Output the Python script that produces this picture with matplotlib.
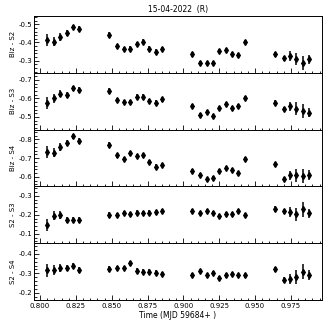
import matplotlib
matplotlib.use("Agg")
import matplotlib.pyplot as plt
from matplotlib.ticker import MultipleLocator, AutoMinorLocator, FormatStrFormatter

# --- Data ---
time = [0.8051, 0.8098, 0.8142, 0.8186, 0.8230, 0.8274,
        0.8479, 0.8539, 0.8586, 0.8630, 0.8674, 0.8718, 0.8762, 0.8807, 0.8851,
        0.9060, 0.9118, 0.9162, 0.9206, 0.9250, 0.9295, 0.9339, 0.9383, 0.9430,
        0.9641, 0.9699, 0.9743, 0.9787, 0.9832, 0.9876]

biz_s2 = [-0.415, -0.405, -0.430, -0.453, -0.485, -0.476,
          -0.442, -0.382, -0.363, -0.367, -0.392, -0.405, -0.367, -0.350, -0.363,
          -0.335, -0.288, -0.288, -0.288, -0.354, -0.360, -0.335, -0.333, -0.400,
          -0.335, -0.313, -0.326, -0.310, -0.290, -0.307]
biz_s3 = [-0.575, -0.600, -0.625, -0.620, -0.654, -0.646,
          -0.642, -0.590, -0.580, -0.580, -0.610, -0.610, -0.586, -0.577, -0.595,
          -0.560, -0.510, -0.525, -0.507, -0.550, -0.568, -0.550, -0.558, -0.604,
          -0.577, -0.542, -0.558, -0.545, -0.532, -0.523]
biz_s4 = [-0.733, -0.729, -0.759, -0.779, -0.818, -0.791,
          -0.768, -0.715, -0.694, -0.725, -0.711, -0.715, -0.679, -0.655, -0.663,
          -0.630, -0.608, -0.587, -0.593, -0.630, -0.649, -0.637, -0.619, -0.694,
          -0.667, -0.587, -0.608, -0.608, -0.605, -0.610]
s2_s3 = [-0.147, -0.195, -0.200, -0.174, -0.174, -0.174,
         -0.200, -0.200, -0.209, -0.205, -0.212, -0.209, -0.212, -0.214, -0.221,
         -0.220, -0.212, -0.221, -0.209, -0.195, -0.205, -0.205, -0.220, -0.200,
         -0.230, -0.218, -0.216, -0.202, -0.228, -0.207]
s2_s4 = [-0.315, -0.318, -0.327, -0.327, -0.338, -0.318,
         -0.323, -0.327, -0.327, -0.352, -0.313, -0.309, -0.309, -0.304, -0.297,
         -0.292, -0.313, -0.292, -0.300, -0.275, -0.289, -0.295, -0.289, -0.289,
         -0.321, -0.267, -0.272, -0.280, -0.309, -0.292]

err = [0.032, 0.025, 0.020, 0.016, 0.013, 0.015,
       0.016, 0.012, 0.012, 0.012, 0.012, 0.012, 0.013, 0.013, 0.012,
       0.012, 0.010, 0.010, 0.011, 0.011, 0.011, 0.011, 0.010, 0.011,
       0.014, 0.012, 0.025, 0.035, 0.038, 0.026]

series = [biz_s2, biz_s3, biz_s4, s2_s3, s2_s4]
labels = ["Biz - S2", "Biz - S3", "Biz - S4", "S2 - S3", "S2 - S4"]
ylims = [(-0.234, -0.545), (-0.432, -0.738), (-0.549, -0.853),
         (-0.051, -0.350), (-0.164, -0.455)]

# --- Plot ---
plt.rcParams["font.family"] = "DejaVu Sans"
plt.rcParams["axes.unicode_minus"] = False
fig, axes = plt.subplots(5, 1, figsize=(3.27, 3.27), dpi=100, sharex=True)
fig.subplots_adjust(left=0.104, right=0.985, top=0.951, bottom=0.083, hspace=0)

for ax, y, lab, yl in zip(axes, series, labels, ylims):
    ax.errorbar(time, y, yerr=err, fmt="d", color="black", ms=3.0,
                elinewidth=1.1, capsize=0)
    ax.set_ylim(*yl)
    ax.set_ylabel(lab, fontsize=5, labelpad=1.5)
    ax.yaxis.set_major_locator(MultipleLocator(0.1))
    ax.yaxis.set_major_formatter(FormatStrFormatter("%.1f"))
    ax.yaxis.set_minor_locator(AutoMinorLocator(5))
    ax.xaxis.set_major_locator(MultipleLocator(0.025))
    ax.xaxis.set_minor_locator(AutoMinorLocator(5))
    ax.tick_params(which="both", direction="in", labelsize=5, width=0.6, pad=1.5)
    ax.tick_params(which="major", length=3.5)
    ax.tick_params(which="minor", length=1.8)
    for s in ax.spines.values():
        s.set_linewidth(0.7)

fig.align_ylabels(axes)
axes[-1].set_xlim(0.7958, 0.9968)
axes[-1].xaxis.set_major_formatter(FormatStrFormatter("%.3f"))
axes[-1].tick_params(axis="x", pad=2.5)
axes[-1].set_xlabel("Time (MJD 59684+ )", fontsize=5.5, labelpad=1)
axes[0].set_title("15-04-2022  (R)", fontsize=5.5, pad=3)

plt.savefig("out.png", dpi=100)
